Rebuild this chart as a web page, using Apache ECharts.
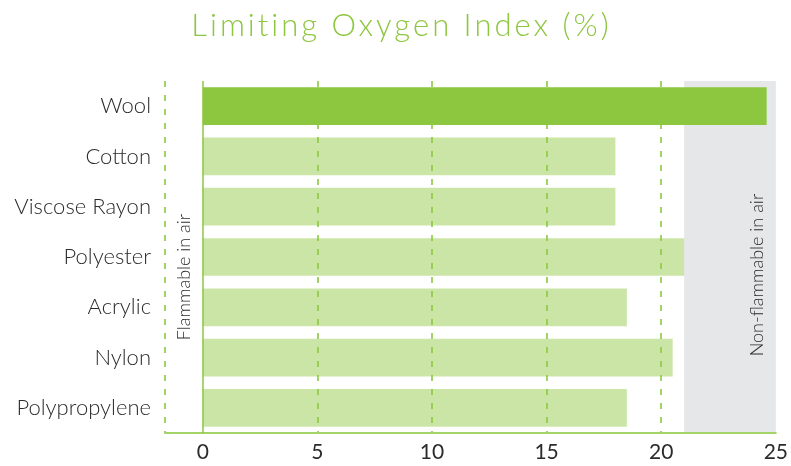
<!DOCTYPE html>
<html>
<head>
<meta charset="utf-8">
<style>
  html, body { margin: 0; padding: 0; background: #ffffff; overflow: hidden; }
  #wrap { position: relative; width: 791px; height: 466px; }
  #chart { position: absolute; left: 0; top: 0; width: 791px; height: 466px; }
  #title { position: absolute; left: 0; top: 9px; width: 791px; padding-left: 12px; box-sizing: border-box;
           text-align: center; font-family: Lato, "Open Sans", sans-serif; font-weight: 300;
           font-size: 31px; line-height: 31px; letter-spacing: 3px; color: #8dc63f; z-index: 2; }
</style>
<script src="https://cdn.jsdelivr.net/npm/echarts@6/dist/echarts.min.js"></script>
</head>
<body>
<div id="wrap">
  <div id="chart"></div>
  <div id="title">Limiting Oxygen Index (%)</div>
</div>
<script>
// ---- data ----
const categories = ['Wool', 'Cotton', 'Viscose Rayon', 'Polyester', 'Acrylic', 'Nylon', 'Polypropylene'];
const loiValues = [24.6, 18, 18, 21, 18.5, 20.5, 18.5];
const xTickLabels = [0, 5, 10, 15, 20, 25];
const dashedGridValues = [5, 10, 15, 20];
const axisMin = -1.65;
const axisMax = 25;
const nonFlammableFrom = 21;
const flammableLabel = 'Flammable in air';
const nonFlammableLabel = 'Non-flammable in air';

// ---- styles ----
const strongGreen = '#8dc63f';
const lightGreen = 'rgba(141,198,63,0.46)';
const dashGreen = '#a3d366';
const textColor = '#2b2b2b';
const font = 'Lato, "Open Sans", sans-serif';

const chart = echarts.init(document.getElementById('chart'), null, { renderer: 'canvas' });

const barData = loiValues.map((v, i) => ({
  value: v,
  itemStyle: { color: i === 0 ? strongGreen : lightGreen }
}));

const dashedLines = [{ xAxis: axisMin }].concat(dashedGridValues.map(v => ({ xAxis: v })));

chart.setOption({
  animation: false,
  grid: { left: 165, right: 12, top: 81, bottom: 33, containLabel: false },
  xAxis: {
    type: 'value',
    min: axisMin,
    max: axisMax,
    splitLine: { show: false },
    axisTick: { show: false },
    axisLine: { show: true, onZero: false, lineStyle: { color: dashGreen, width: 2 } },
    axisLabel: {
      customValues: xTickLabels,
      color: textColor, fontFamily: font, fontSize: 21, margin: 9
    }
  },
  yAxis: {
    type: 'category',
    data: categories,
    inverse: true,
    axisLine: { show: false },
    axisTick: { show: false },
    splitLine: { show: false },
    axisLabel: { color: textColor, fontFamily: font, fontWeight: 300, fontSize: 22, margin: 14 }
  },
  series: [
    {
      type: 'bar',
      name: 'guides',
      data: [],
      z: 1,
      markArea: {
        silent: true,
        z: 0,
        itemStyle: { color: '#e6e7e8' },
        label: { show: false },
        data: [[{ xAxis: nonFlammableFrom }, { xAxis: axisMax }]]
      },
      markLine: {
        silent: true,
        symbol: 'none',
        z: 1,
        label: { show: false },
        lineStyle: { color: dashGreen, width: 2, type: [6, 8] },
        data: dashedLines.concat([{ xAxis: 0, lineStyle: { type: 'solid', color: strongGreen, width: 1.5 } }])
      }
    },
    {
      type: 'bar',
      name: 'LOI',
      data: barData,
      barGap: '-100%',
      barCategoryGap: '25%',
      z: 3
    }
  ],
  graphic: [
    {
      type: 'text', x: 184, y: 277, rotation: Math.PI / 2, z: 100,
      style: { text: flammableLabel, x: 0, y: 0, align: 'center', verticalAlign: 'middle',
               fill: textColor, font: '300 18px ' + font }
    },
    {
      type: 'text', x: 757, y: 275, rotation: Math.PI / 2, z: 100,
      style: { text: nonFlammableLabel, x: 0, y: 0, align: 'center', verticalAlign: 'middle',
               fill: textColor, font: '300 18px ' + font }
    }
  ]
});
</script>
</body>
</html>
